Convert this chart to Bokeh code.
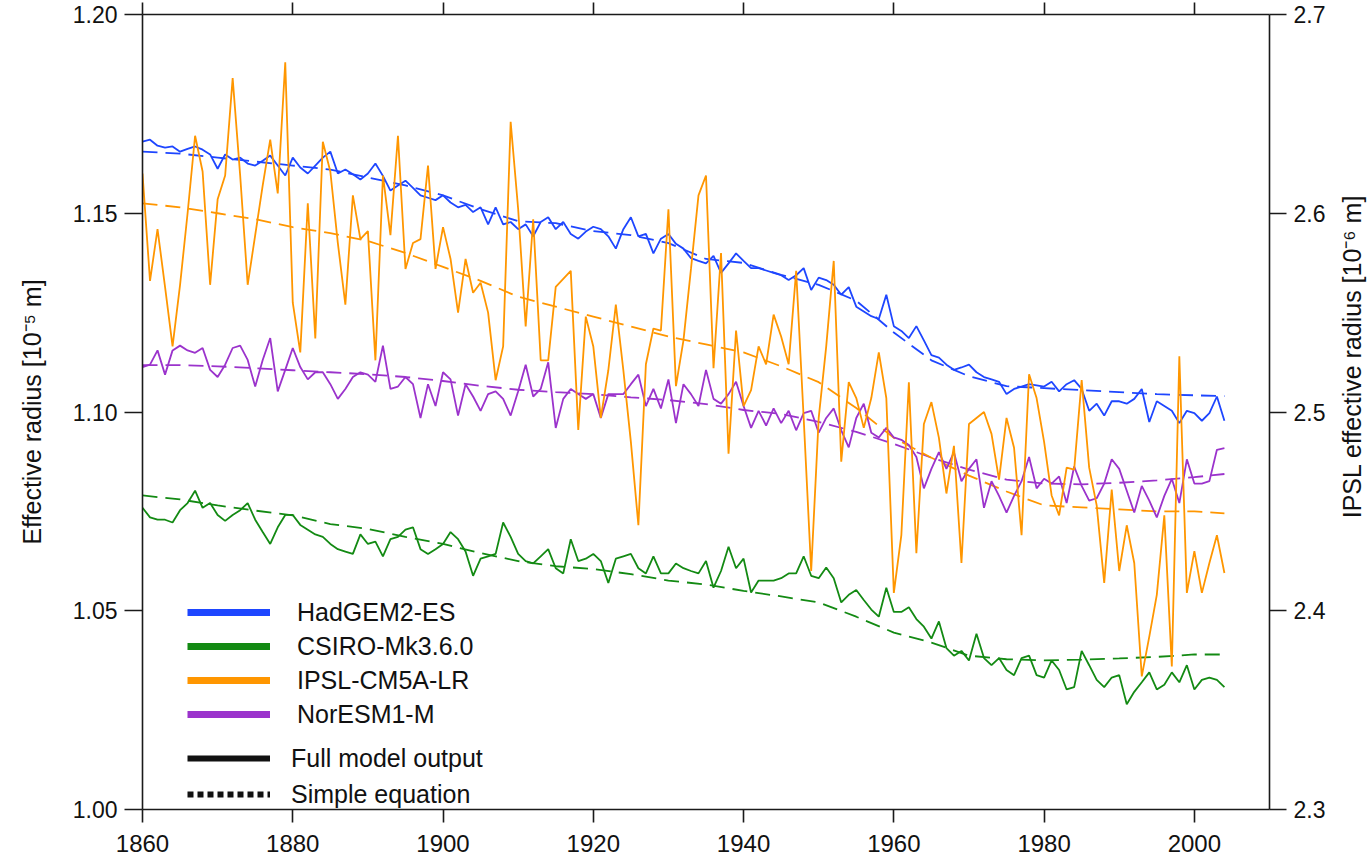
import math
from bokeh.plotting import figure
from bokeh.layouts import row
from bokeh.models import Range1d, LinearAxis, Legend, LegendItem, FixedTicker, PrintfTickFormatter, Label
from bokeh.embed import file_html
from bokeh.resources import INLINE

# ---------------- data ----------------
years = list(range(1860, 2005))
years_eq = [1860, 1865, 1870, 1875, 1880, 1885, 1890, 1895, 1900, 1905, 1910, 1915,
            1920, 1925, 1930, 1935, 1940, 1945, 1950, 1955, 1960, 1965, 1970, 1975,
            1980, 1985, 1990, 1995, 2000, 2004]

hadgem = [1.1680, 1.1685, 1.1670, 1.1665, 1.1668, 1.1655, 1.1662, 1.1668, 1.1660, 1.1648,
          1.1612, 1.1648, 1.1635, 1.1640, 1.1625, 1.1620, 1.1632, 1.1645, 1.1620, 1.1595,
          1.1640, 1.1615, 1.1600, 1.1620, 1.1640, 1.1655, 1.1600, 1.1610, 1.1598, 1.1585,
          1.1600, 1.1625, 1.1594, 1.1557, 1.1570, 1.1582, 1.1564, 1.1545, 1.1539, 1.1533,
          1.1545, 1.1527, 1.1515, 1.1521, 1.1503, 1.1515, 1.1472, 1.1515, 1.1472, 1.1478,
          1.1460, 1.1472, 1.1442, 1.1478, 1.1490, 1.1460, 1.1478, 1.1448, 1.1436, 1.1454,
          1.1466, 1.1460, 1.1442, 1.1411, 1.1460, 1.1490, 1.1442, 1.1448, 1.1399, 1.1436,
          1.1448, 1.1423, 1.1411, 1.1387, 1.1380, 1.1374, 1.1393, 1.1350, 1.1374, 1.1399,
          1.1380, 1.1362, 1.1362, 1.1356, 1.1350, 1.1344, 1.1332, 1.1344, 1.1362, 1.1307,
          1.1338, 1.1332, 1.1320, 1.1295, 1.1314, 1.1265, 1.1253, 1.1241, 1.1234, 1.1295,
          1.1216, 1.1204, 1.1186, 1.1216, 1.1180, 1.1143, 1.1137, 1.1119, 1.1106, 1.1112,
          1.1119, 1.1100, 1.1088, 1.1082, 1.1076, 1.1045, 1.1058, 1.1064, 1.1070, 1.1067,
          1.1064, 1.1076, 1.1052, 1.1070, 1.1080, 1.1058, 1.1003, 1.1021, 1.0991, 1.1027,
          1.1027, 1.1021, 1.1033, 1.1058, 1.0975, 1.1027, 1.1015, 1.1003, 1.0972, 1.1003,
          1.0997, 1.0978, 1.0997, 1.1039, 1.0978]

csiro = [1.0759, 1.0735, 1.0729, 1.0729, 1.0722, 1.0753, 1.0771, 1.0802, 1.0759, 1.0771,
         1.0741, 1.0726, 1.0741, 1.0753, 1.0771, 1.0729, 1.0698, 1.0668, 1.0710, 1.0741,
         1.0741, 1.0716, 1.0704, 1.0692, 1.0686, 1.0668, 1.0655, 1.0649, 1.0643, 1.0692,
         1.0668, 1.0674, 1.0637, 1.0680, 1.0686, 1.0704, 1.0710, 1.0655, 1.0643, 1.0655,
         1.0668, 1.0698, 1.0680, 1.0649, 1.0588, 1.0631, 1.0637, 1.0643, 1.0722, 1.0686,
         1.0643, 1.0625, 1.0619, 1.0637, 1.0655, 1.0607, 1.0594, 1.0680, 1.0625, 1.0631,
         1.0643, 1.0625, 1.0570, 1.0631, 1.0637, 1.0643, 1.0607, 1.0594, 1.0637, 1.0594,
         1.0594, 1.0619, 1.0607, 1.0600, 1.0594, 1.0625, 1.0558, 1.0600, 1.0661, 1.0607,
         1.0631, 1.0546, 1.0576, 1.0576, 1.0576, 1.0582, 1.0594, 1.0594, 1.0637, 1.0588,
         1.0582, 1.0609, 1.0582, 1.0521, 1.0540, 1.0552, 1.0527, 1.0503, 1.0485, 1.0558,
         1.0497, 1.0497, 1.0509, 1.0479, 1.0460, 1.0430, 1.0473, 1.0406, 1.0387, 1.0399,
         1.0375, 1.0442, 1.0381, 1.0363, 1.0381, 1.0351, 1.0338, 1.0381, 1.0387, 1.0338,
         1.0332, 1.0375, 1.0351, 1.0302, 1.0308, 1.0399, 1.0363, 1.0326, 1.0308, 1.0332,
         1.0338, 1.0265, 1.0296, 1.0320, 1.0345, 1.0302, 1.0314, 1.0345, 1.0320, 1.0363,
         1.0302, 1.0326, 1.0332, 1.0326, 1.0308]

# IPSL values are on the right-hand axis (10^-6 m)
ipsl = [2.620, 2.566, 2.592, 2.563, 2.533, 2.564, 2.600, 2.639, 2.621, 2.564,
        2.607, 2.619, 2.668, 2.619, 2.564, 2.589, 2.614, 2.637, 2.610, 2.676,
        2.555, 2.530, 2.605, 2.537, 2.636, 2.621, 2.585, 2.554, 2.609, 2.587,
        2.591, 2.526, 2.619, 2.589, 2.639, 2.572, 2.585, 2.587, 2.624, 2.572,
        2.593, 2.577, 2.550, 2.577, 2.560, 2.565, 2.550, 2.516, 2.533, 2.646,
        2.602, 2.543, 2.597, 2.526, 2.526, 2.563, 2.567, 2.571, 2.491, 2.548,
        2.533, 2.497, 2.521, 2.554, 2.521, 2.485, 2.443, 2.524, 2.542, 2.541,
        2.602, 2.513, 2.536, 2.572, 2.609, 2.619, 2.522, 2.580, 2.479, 2.541,
        2.503, 2.511, 2.533, 2.524, 2.549, 2.538, 2.524, 2.571, 2.497, 2.420,
        2.497, 2.533, 2.576, 2.475, 2.515, 2.507, 2.492, 2.507, 2.530, 2.507,
        2.409, 2.438, 2.515, 2.429, 2.494, 2.505, 2.487, 2.459, 2.483, 2.424,
        2.494, 2.497, 2.500, 2.489, 2.466, 2.497, 2.482, 2.438, 2.519, 2.507,
        2.485, 2.458, 2.448, 2.472, 2.471, 2.516, 2.472, 2.453, 2.414, 2.461,
        2.420, 2.443, 2.424, 2.367, 2.387, 2.408, 2.448, 2.372, 2.528, 2.409,
        2.430, 2.409, 2.424, 2.438, 2.419]

noresm = [1.1113, 1.1119, 1.1155, 1.1094, 1.1155, 1.1167, 1.1155, 1.1149, 1.1161, 1.1106,
          1.1088, 1.1119, 1.1161, 1.1167, 1.1131, 1.1064, 1.1131, 1.1186, 1.1052, 1.1106,
          1.1161, 1.1113, 1.1082, 1.1100, 1.1100, 1.1070, 1.1033, 1.1058, 1.1088, 1.1100,
          1.1094, 1.1076, 1.1167, 1.1058, 1.1064, 1.1088, 1.1070, 1.0985, 1.1070, 1.1015,
          1.1100, 1.1082, 1.0991, 1.1070, 1.1039, 1.1003, 1.1045, 1.1052, 1.1033, 1.0991,
          1.1052, 1.1119, 1.1039, 1.1058, 1.1125, 1.0960, 1.1033, 1.1058, 1.1045, 1.1033,
          1.1045, 1.0985, 1.1045, 1.1045, 1.1045, 1.1070, 1.1094, 1.1015, 1.1058, 1.1009,
          1.1082, 1.0972, 1.1070, 1.1045, 1.1015, 1.1106, 1.1033, 1.1021, 1.1045, 1.1076,
          1.1015, 1.0960, 1.1003, 1.0966, 1.1009, 1.0972, 1.1003, 1.0954, 1.0997, 1.1003,
          1.0948, 1.0985, 1.1009, 1.0954, 1.0911, 1.0985, 1.1021, 1.0948, 1.0936, 1.0960,
          1.0936, 1.0930, 1.0917, 1.0887, 1.0808, 1.0857, 1.0899, 1.0857, 1.0899, 1.0826,
          1.0857, 1.0881, 1.0759, 1.0826, 1.0789, 1.0747, 1.0789, 1.0826, 1.0887, 1.0808,
          1.0832, 1.0820, 1.0838, 1.0771, 1.0863, 1.0814, 1.0777, 1.0783, 1.0820, 1.0881,
          1.0857, 1.0802, 1.0747, 1.0814, 1.0777, 1.0735, 1.0789, 1.0832, 1.0771, 1.0881,
          1.0820, 1.0820, 1.0826, 1.0905, 1.0909]

# "Simple equation" estimates
hadgem_eq = [1.1655, 1.1650, 1.1640, 1.1630, 1.1620, 1.1610, 1.1590, 1.1570, 1.1545, 1.1510,
             1.1480, 1.1475, 1.1455, 1.1445, 1.1425, 1.1385, 1.1375, 1.1345, 1.1320, 1.1280,
             1.1200, 1.1130, 1.1090, 1.1065, 1.1060, 1.1055, 1.1050, 1.1045, 1.1042, 1.1040]
csiro_eq = [1.0790, 1.0780, 1.0765, 1.0752, 1.0740, 1.0718, 1.0706, 1.0686, 1.0668, 1.0645,
            1.0625, 1.0612, 1.0605, 1.0592, 1.0576, 1.0566, 1.0550, 1.0536, 1.0521, 1.0485,
            1.0445, 1.0420, 1.0387, 1.0378, 1.0375, 1.0377, 1.0380, 1.0384, 1.0390, 1.0390]
ipsl_eq = [2.605, 2.603, 2.600, 2.597, 2.593, 2.590, 2.586, 2.580, 2.573, 2.566,
           2.558, 2.553, 2.548, 2.543, 2.538, 2.534, 2.530, 2.523, 2.515, 2.502,
           2.487, 2.477, 2.468, 2.460, 2.453, 2.452, 2.451, 2.450, 2.450, 2.449]
noresm_eq = [1.1118, 1.1118, 1.1115, 1.1110, 1.1105, 1.1100, 1.1095, 1.1088, 1.1078, 1.1066,
             1.1056, 1.1050, 1.1045, 1.1037, 1.1030, 1.1020, 1.1005, 1.0995, 1.0975, 1.0950,
             1.0920, 1.0885, 1.0855, 1.0830, 1.0820, 1.0818, 1.0822, 1.0828, 1.0836, 1.0844]

x_ticks = [1860, 1880, 1900, 1920, 1940, 1960, 1980, 2000]
left_ticks = [1.00, 1.05, 1.10, 1.15, 1.20]
right_ticks = [2.3, 2.4, 2.5, 2.6, 2.7]
model_names = ["HadGEM2-ES", "CSIRO-Mk3.6.0", "IPSL-CM5A-LR", "NorESM1-M"]
style_names = ["Full model output", "Simple equation"]
left_title = "Effective radius [10\u207b\u2075 m]"
right_title = "IPSL effective radius [10\u207b\u2076 m]"

# ---------------- style ----------------
BLUE = "#1e46ff"
GREEN = "#138a13"
ORANGE = "#ff9600"
PURPLE = "#9b33cc"
AX = "#1a1a1a"
FONT = "Liberation Sans"
LW = 1.8
DASH = "15 8"
NAN = float("nan")
MAIN_W = 1335
SIDE_W = 1369 - MAIN_W
H = 861

p = figure(width=MAIN_W, height=H,
           x_range=Range1d(1860, 2010), y_range=Range1d(1.0, 1.2),
           output_backend="svg", toolbar_location=None,
           min_border_left=142, min_border_right=MAIN_W - 1269,
           min_border_top=14, min_border_bottom=52)
p.extra_y_ranges = {"ipsl": Range1d(2.3, 2.7)}
p.grid.visible = False
p.outline_line_color = None
p.background_fill_color = "white"
p.border_fill_color = "white"

def style_axis(ax, tick_out, size, standoff):
    ax.major_tick_out = tick_out
    ax.major_tick_in = 0
    ax.minor_tick_line_color = None
    ax.axis_line_color = AX
    ax.axis_line_width = 1.6
    ax.major_tick_line_color = AX
    ax.major_tick_line_width = 1.6
    ax.major_label_text_font = FONT
    ax.major_label_text_font_size = size
    ax.major_label_text_color = "#111111"
    ax.major_label_standoff = standoff
    ax.axis_label_text_font = FONT
    ax.axis_label_text_font_style = "normal"
    ax.axis_label_text_color = "#111111"

xb = p.xaxis[0]
xb.ticker = FixedTicker(ticks=x_ticks)
style_axis(xb, 13, "24px", 12)

yl = p.yaxis[0]
yl.ticker = FixedTicker(ticks=left_ticks)
yl.formatter = PrintfTickFormatter(format="%.2f")
style_axis(yl, 18, "23px", 7)
yl.axis_label = left_title
yl.axis_label_text_font_size = "25px"
yl.axis_label_standoff = 24

yr = LinearAxis(y_range_name="ipsl", ticker=FixedTicker(ticks=right_ticks),
                formatter=PrintfTickFormatter(format="%.1f"))
style_axis(yr, 17, "23px", 7)
p.add_layout(yr, "right")

xt = LinearAxis(ticker=FixedTicker(ticks=x_ticks))
style_axis(xt, 12, "0px", 0)
xt.major_label_text_alpha = 0
p.add_layout(xt, "above")

# ---------------- data lines ----------------
p.line(years_eq, hadgem_eq, line_color=BLUE, line_width=LW, line_dash=DASH)
p.line(years_eq, csiro_eq, line_color=GREEN, line_width=LW, line_dash=DASH)
p.line(years_eq, noresm_eq, line_color=PURPLE, line_width=LW, line_dash=DASH)
p.line(years_eq, ipsl_eq, line_color=ORANGE, line_width=LW, line_dash=DASH, y_range_name="ipsl")

p.line(years, hadgem, line_color=BLUE, line_width=LW)
p.line(years, csiro, line_color=GREEN, line_width=LW)
p.line(years, noresm, line_color=PURPLE, line_width=LW)
p.line(years, ipsl, line_color=ORANGE, line_width=LW, y_range_name="ipsl")

# ---------------- legends (sample renderers with no visible data) ----------------
model_colors = [BLUE, GREEN, ORANGE, PURPLE]
items1 = []
for name, col in zip(model_names, model_colors):
    r = p.line(x=[NAN], y=[NAN], line_color=col, line_width=7)
    items1.append(LegendItem(label=name, renderers=[r]))
r_full = p.line(x=[NAN], y=[NAN], line_color="#111111", line_width=6)
r_eq = p.line(x=[NAN], y=[NAN], line_color="#111111", line_width=6, line_dash="6 4")
items2 = [LegendItem(label=style_names[0], renderers=[r_full]),
          LegendItem(label=style_names[1], renderers=[r_eq])]

def make_legend(items, loc, standoff, spacing, h):
    lg = Legend(items=items, location=loc, glyph_width=83, glyph_height=h,
                label_height=h, spacing=spacing, label_standoff=standoff,
                padding=0, margin=0, border_line_color=None,
                background_fill_alpha=0,
                label_text_font=FONT, label_text_font_size="25px",
                label_text_color="#111111")
    return lg

p.add_layout(make_legend(items1, (45, 80), 27, 4, 30))
p.add_layout(make_legend(items2, (45, 0), 21, 6, 30))

# ---------------- narrow strip holding the right-hand title ----------------
side = figure(width=SIDE_W, height=H, x_range=Range1d(0, 1), y_range=Range1d(0, 1),
              output_backend="svg", toolbar_location=None,
              x_axis_type=None, y_axis_type=None,
              min_border_left=0, min_border_right=0, min_border_top=0, min_border_bottom=0)
side.grid.visible = False
side.outline_line_color = None
side.background_fill_color = "white"
side.border_fill_color = "white"
side.add_layout(Label(x=SIDE_W / 2 - 1, y=H - 408, x_units="screen", y_units="screen",
                      text=right_title, angle=math.pi / 2,
                      text_align="center", text_baseline="middle",
                      text_font=FONT, text_font_size="25px", text_color="#111111"))

layout = row(p, side, spacing=0)
open("out.html", "w").write(file_html(layout, INLINE))
